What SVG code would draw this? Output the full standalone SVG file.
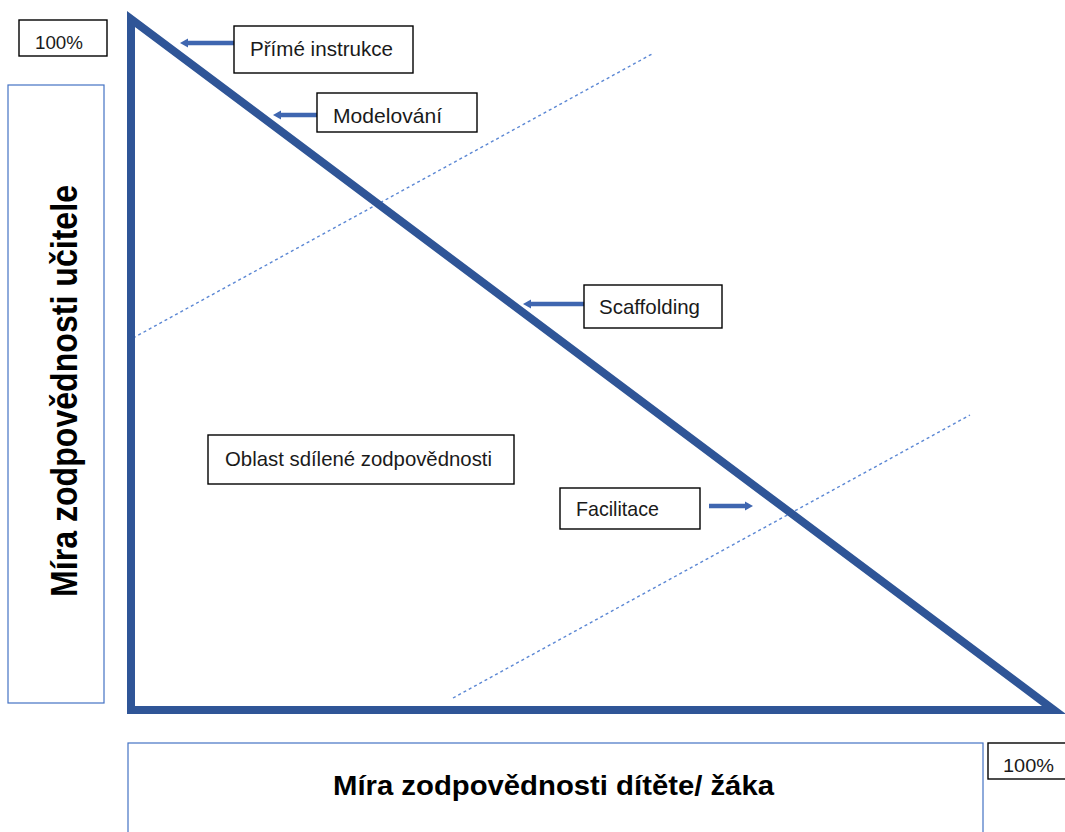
<svg xmlns="http://www.w3.org/2000/svg" width="1065" height="832" viewBox="0 0 1065 832">
<style>
.box{fill:#fff;stroke:#000;stroke-width:1.4}
.axis{fill:#fff;stroke:#4472C4;stroke-width:1.2}
.lbl{font-family:"Liberation Sans",Arial,sans-serif;font-size:21px;fill:#1a1a1a}
.pct{font-family:"Liberation Sans",Arial,sans-serif;font-size:18px;fill:#1a1a1a}
.big{font-family:"Liberation Sans",Arial,sans-serif;font-weight:bold;fill:#000}
.dot{stroke:#5B87D4;stroke-width:1.4;stroke-dasharray:3 3;fill:none}
.arr{stroke:#3F66B0;stroke-width:4.3;fill:none;marker-end:url(#ah)}
</style>
<defs>
<marker id="ah" markerUnits="userSpaceOnUse" markerWidth="9" markerHeight="10" refX="0.5" refY="5" orient="auto">
<path d="M0,0.5 L8,5 L0,9.5 z" fill="#3F66B0"/>
</marker>
</defs>
<rect width="1065" height="832" fill="#fff"/>
<g id="axis-y">
<rect class="axis" x="8" y="85" width="96" height="618"/>
<text class="big" font-size="36" transform="translate(77,597) rotate(-90)" textLength="412" lengthAdjust="spacingAndGlyphs">Míra zodpovědnosti učitele</text>
</g>
<g id="axis-x">
<rect class="axis" x="128" y="743" width="855" height="100"/>
<text class="big" font-size="28" x="333" y="795" textLength="441" lengthAdjust="spacingAndGlyphs">Míra zodpovědnosti dítěte/ žáka</text>
</g>
<g id="dividers">
<line class="dot" x1="133" y1="338" x2="652" y2="54"/>
<line class="dot" x1="453" y1="698" x2="970" y2="415"/>
</g>
<g id="triangle">
<path d="M131,19 L131,710 L1054,710 Z" fill="none" stroke="#2F5597" stroke-width="8" stroke-linejoin="miter" stroke-miterlimit="6"/>
</g>
<g id="connectors">
<line class="arr" x1="236" y1="43" x2="187.5" y2="43"/>
<line class="arr" x1="317" y1="115" x2="280.5" y2="115"/>
<line class="arr" x1="584" y1="304" x2="530.5" y2="304"/>
<line class="arr" x1="709" y1="506" x2="745.5" y2="506"/>
</g>
<g id="pct-top">
<rect class="box" x="19" y="20" width="88" height="36"/>
<text class="pct" x="35" y="49" textLength="48" lengthAdjust="spacingAndGlyphs">100%</text>
</g>
<g id="prime-instrukce">
<rect class="box" x="234" y="26" width="179" height="47"/>
<text class="lbl" x="250" y="56" textLength="143" lengthAdjust="spacingAndGlyphs">Přímé instrukce</text>
</g>
<g id="modelovani">
<rect class="box" x="317" y="93" width="160" height="39"/>
<text class="lbl" x="333" y="123" textLength="109" lengthAdjust="spacingAndGlyphs">Modelování</text>
</g>
<g id="scaffolding">
<rect class="box" x="584" y="285" width="138" height="43"/>
<text class="lbl" x="599" y="314" textLength="101" lengthAdjust="spacingAndGlyphs">Scaffolding</text>
</g>
<g id="facilitace">
<rect class="box" x="560" y="488" width="140" height="41"/>
<text class="lbl" x="576" y="516" textLength="83" lengthAdjust="spacingAndGlyphs">Facilitace</text>
</g>
<g id="oblast">
<rect class="box" x="208" y="435" width="306" height="49"/>
<text class="lbl" x="225" y="466" textLength="267" lengthAdjust="spacingAndGlyphs">Oblast sdílené zodpovědnosti</text>
</g>
<g id="pct-bottom">
<rect class="box" x="988" y="743" width="90" height="36"/>
<text class="pct" x="1003" y="772" textLength="51" lengthAdjust="spacingAndGlyphs">100%</text>
</g>
</svg>
